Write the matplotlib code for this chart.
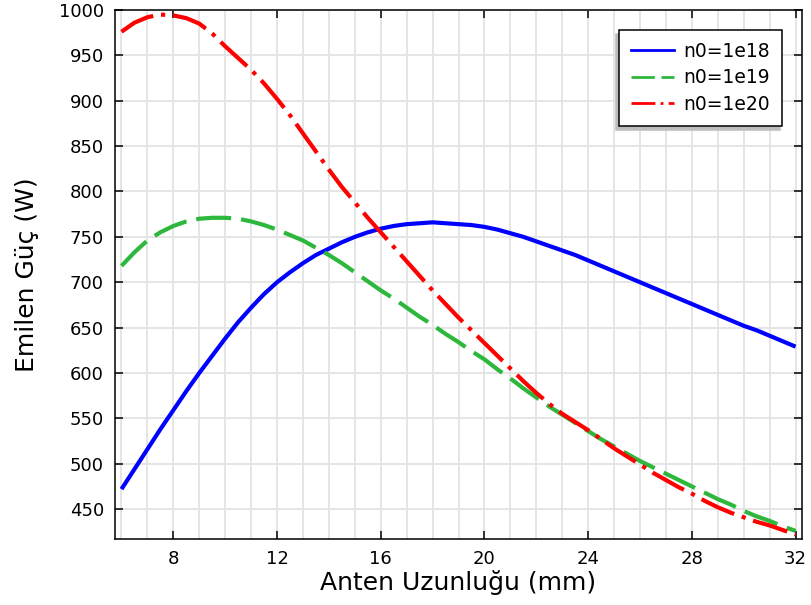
import matplotlib
matplotlib.use("Agg")
import matplotlib.pyplot as plt
from matplotlib.lines import Line2D
from matplotlib.ticker import MultipleLocator

# Data (at 0.5 mm steps)
x_mm = [6.0, 6.5, 7.0, 7.5, 8.0, 8.5, 9.0, 9.5, 10.0, 10.5, 11.0, 11.5, 12.0, 12.5,
        13.0, 13.5, 14.0, 14.5, 15.0, 15.5, 16.0, 16.5, 17.0, 17.5, 18.0, 18.5,
        19.0, 19.5, 20.0, 20.5, 21.0, 21.5, 22.0, 22.5, 23.0, 23.5, 24.0, 24.5,
        25.0, 25.5, 26.0, 26.5, 27.0, 27.5, 28.0, 28.5, 29.0, 29.5, 30.0, 30.5,
        31.0, 31.5, 32.0]
p_1e18 = [472, 494, 516, 538, 559, 580, 600, 619, 638, 656, 672, 687, 700, 711,
          721, 730, 737, 744, 750, 755, 759, 762, 764, 765, 766, 765,
          764, 763, 761, 758, 754, 750, 745, 740, 735, 730, 724, 718,
          712, 706, 700, 694, 688, 682, 676, 670, 664, 658, 652, 647,
          641, 635, 629]
p_1e19 = [718, 733, 746, 755, 762, 767, 770, 771, 771, 770, 767, 763, 758, 752,
          746, 738, 730, 721, 711, 701, 691, 682, 672, 662, 653, 643,
          634, 624, 615, 604, 594, 583, 573, 563, 554, 545, 536, 527,
          519, 511, 503, 496, 489, 482, 475, 468, 461, 455, 448, 442,
          437, 431, 426]
p_1e20 = [976, 986, 992, 995, 994, 991, 985, 974, 960, 947, 934, 919, 902, 884,
          864, 844, 824, 805, 788, 771, 755, 739, 723, 707, 691, 676,
          661, 647, 633, 619, 605, 591, 578, 566, 555, 546, 537, 527,
          517, 508, 499, 490, 482, 474, 467, 459, 452, 446, 441, 436,
          432, 427, 422]
labels = ["n0=1e18", "n0=1e19", "n0=1e20"]
x_ticks = [8, 12, 16, 20, 24, 28, 32]
y_ticks = [450, 500, 550, 600, 650, 700, 750, 800, 850, 900, 950, 1000]

fig = plt.figure(figsize=(8.11, 6.05), dpi=100)
ax = fig.add_axes([0.1418, 0.109, 0.989 - 0.1418, 0.9835 - 0.109])

dash_g = (8.4, 2.4)
dash_r = (8.6, 1.9, 1.0, 1.9)
ax.plot(x_mm, p_1e18, color="#0000ff", lw=3, solid_capstyle="butt", zorder=3)
ax.plot(x_mm, p_1e19, color="#2db83d", lw=3, dashes=dash_g, dash_capstyle="butt", zorder=3)
ax.plot(x_mm, p_1e20, color="#ff0000", lw=3, dashes=dash_r, dash_capstyle="butt", zorder=3)

ax.set_xlim(5.75, 32.25)
ax.set_ylim(417, 1000)
ax.set_xticks(x_ticks)
ax.set_yticks(y_ticks)
ax.xaxis.set_minor_locator(MultipleLocator(1))
ax.grid(True, which="major", color="#e3e3e3", lw=1.3, zorder=0)
ax.grid(True, which="minor", axis="x", color="#e3e3e3", lw=1.3, zorder=0)
ax.set_axisbelow(True)

ax.tick_params(which="major", direction="in", length=6, width=1.1,
               top=True, right=True, labelsize=13, pad=8, colors="black")
ax.tick_params(which="minor", length=0, top=True, right=True)
for s in ax.spines.values():
    s.set_linewidth(1.1)
    s.set_color("black")

ax.set_xlabel("Anten Uzunluğu (mm)", fontsize=18, labelpad=1)
ax.set_ylabel("Emilen Güç (W)", fontsize=18, labelpad=14)

handles = [
    Line2D([], [], color="#0000ff", lw=2),
    Line2D([], [], color="#2db83d", lw=2, dashes=dash_g),
    Line2D([], [], color="#ff0000", lw=2, dashes=dash_r),
]
leg = ax.legend(handles, labels, loc="upper right", fontsize=13.5, fancybox=False,
                framealpha=1, edgecolor="black", handlelength=2.3, handletextpad=0.5,
                borderaxespad=1.05, labelspacing=0.4, borderpad=0.65,
                shadow={"ox": -2, "oy": -3, "color": "#bdbdbd", "alpha": 1})
leg.get_frame().set_linewidth(1.1)

fig.savefig("out.png", dpi=100)
